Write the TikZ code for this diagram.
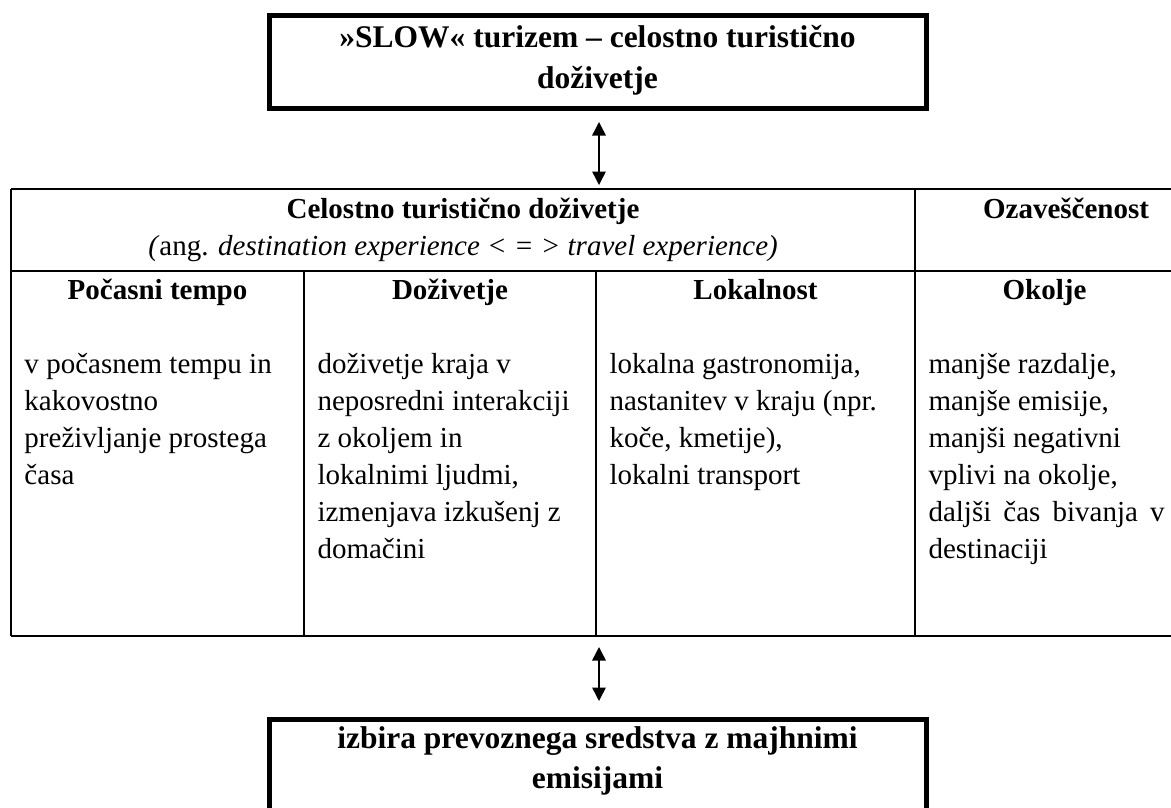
\documentclass[tikz,border=0pt]{standalone}
\usepackage{fontspec}
\setmainfont{Liberation Serif}
\usetikzlibrary{arrows.meta}
\begin{document}
\begin{tikzpicture}[x=0.4pt,y=-0.4pt,
  frame/.style={draw, line width=2pt, inner sep=0pt},
  rule/.style={line width=0.8pt},
  dbl/.style={{Triangle[length=5.4pt,width=5.4pt]}-{Triangle[length=5.4pt,width=5.4pt]}, line width=0.6pt},
  ttl/.style={font=\bfseries\fontsize{12.6}{16.2}\selectfont, inner sep=0pt, anchor=base},
  hdr/.style={font=\bfseries\fontsize{11.6}{14.8}\selectfont, inner sep=0pt, anchor=base},
  txt/.style={font=\fontsize{11.6}{14.8}\selectfont, inner sep=0pt, anchor=base west},
]
\useasboundingbox (0,0) rectangle (1171,807);
\clip (0,0) rectangle (1171,807);

% top box
\node[frame, minimum width=262.8pt, minimum height=37.2pt] (topbox) at (597.5,61.5) {};
\node[ttl] (toptext) at (597.5,47.5) {\parbox[t]{256pt}{\centering »SLOW« turizem – celostno turistično\\doživetje}};

% arrow 1
\coordinate (a1s) at (599,122);
\coordinate (a1e) at (599,185);
\draw[dbl] (a1s) -- (a1e);

% table
\draw[rule] (11,189) -- (1174,189);
\draw[rule] (11,271) -- (1174,271);
\draw[rule] (11,636) -- (1174,636);
\draw[rule] (11,189) -- (11,636);
\draw[rule] (304,271) -- (304,636);
\draw[rule] (596,271) -- (596,636);
\draw[rule] (915,189) -- (915,636);
\draw[rule] (1174,189) -- (1174,636);

\node[hdr] (hcel) at (463,218) {Celostno turistično doživetje};
\node[txt, anchor=base] (hang) at (463,255) {\textit{(}ang. \textit{destination experience \textless\ = \textgreater\ travel experience)}};
\node[hdr] (hoza) at (1066,218) {Ozaveščenost};

\node[hdr] (hpt) at (157.5,299) {Počasni tempo};
\node[hdr] (hdo) at (450,299) {Doživetje};
\node[hdr] (hlo) at (755.5,299) {Lokalnost};
\node[hdr] (hok) at (1044.5,299) {Okolje};

\node[txt] (c1) at (24,373) {\parbox[t]{110pt}{\raggedright v počasnem tempu in\\kakovostno\\preživljanje prostega\\časa}};
\node[txt] (c2) at (317,373) {\parbox[t]{110pt}{\raggedright doživetje kraja v\\neposredni interakciji\\z okoljem in\\lokalnimi ljudmi,\\izmenjava izkušenj z\\domačini}};
\node[txt] (c3) at (609,373) {\parbox[t]{120pt}{\raggedright lokalna gastronomija,\\nastanitev v kraju (npr.\\koče, kmetije),\\lokalni transport}};
\node[txt] (c4) at (928,373) {\parbox[t]{94.4pt}{\raggedright manjše razdalje,\\manjše emisije,\\manjši negativni\\vplivi na okolje,\\\makebox[\linewidth][s]{daljši čas bivanja v}\\destinaciji}};

% arrow 2
\coordinate (a2s) at (599,647);
\coordinate (a2e) at (599,701);
\draw[dbl] (a2s) -- (a2e);

% bottom box
\node[frame, minimum width=262.8pt, minimum height=60pt, anchor=north] (botbox) at (597.5,717) {};
\node[ttl] (bottext) at (597.5,748) {\parbox[t]{256pt}{\centering izbira prevoznega sredstva z majhnimi\\emisijami}};
\end{tikzpicture}
\end{document}
